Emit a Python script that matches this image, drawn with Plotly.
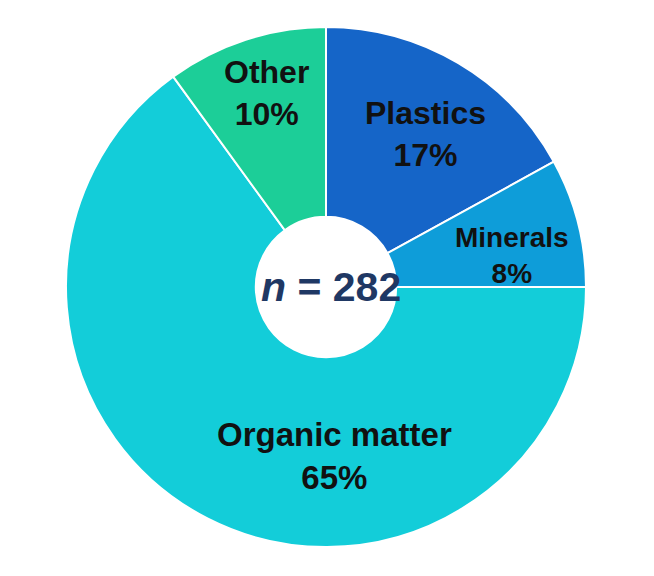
import plotly.graph_objects as go

# composition shares (%), clockwise from 12 o'clock
categories = ["Plastics", "Minerals", "Organic matter", "Other"]
shares = [17, 8, 65, 10]
colors = ["#1565C8", "#0E9DD9", "#13CDD9", "#1CCE98"]
n_total = 282

# label placement (paper coords) and font size per slice
label_x = [0.692, 0.858, 0.517, 0.385]
label_y = [0.794, 0.561, 0.175, 0.873]
label_size = [32, 28, 33, 32]

fig = go.Figure(
    go.Pie(
        labels=categories,
        values=shares,
        sort=False,
        direction="clockwise",
        rotation=0,
        hole=0.27,
        marker=dict(colors=colors, line=dict(color="white", width=2)),
        textinfo="none",
        hoverinfo="label+percent",
        showlegend=False,
    )
)

annotations = []
for name, pct, x, y, s in zip(categories, shares, label_x, label_y, label_size):
    annotations.append(dict(
        x=x, y=y, xref="paper", yref="paper",
        xanchor="center", yanchor="middle",
        text=f"<b>{name}<br>{pct}%</b>",
        showarrow=False,
        font=dict(family="Arial, Liberation Sans, sans-serif", size=s, color="#111111"),
    ))

annotations.append(dict(
    x=0.51, y=0.5, xref="paper", yref="paper",
    xanchor="center", yanchor="middle",
    text=f"<b><i>n</i> = {n_total}</b>",
    showarrow=False,
    font=dict(family="Arial, Liberation Sans, sans-serif", size=41, color="#1F3864"),
))

fig.update_layout(
    width=654,
    height=576,
    # page body adds an 8px offset, so margins are shifted up/left
    margin=dict(l=58, r=76, t=19, b=37),
    paper_bgcolor="white",
    plot_bgcolor="white",
    annotations=annotations,
)

fig.write_html("out.html")
